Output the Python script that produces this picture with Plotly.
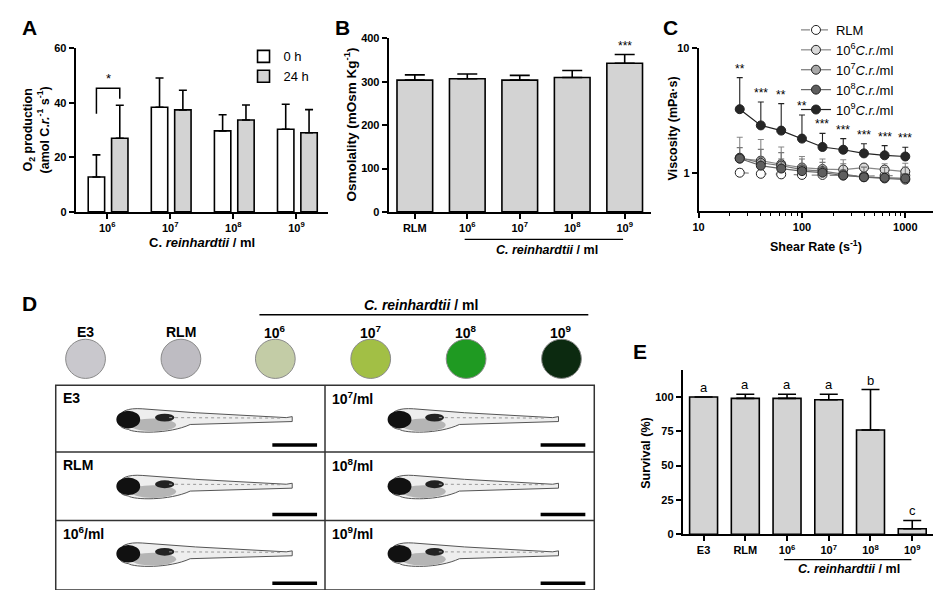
import numpy as np
import plotly.graph_objects as go

W, H = 941, 590
FONT = "Liberation Sans, Arial, sans-serif"

# ---------------- data ----------------
# Panel A: O2 production
a_cats = ["10<sup>6</sup>", "10<sup>7</sup>", "10<sup>8</sup>", "10<sup>9</sup>"]
a_0h = [12.8, 38.4, 29.7, 30.3]
a_0h_err = [8.1, 10.7, 5.9, 9.2]
a_24h = [27.0, 37.4, 33.7, 29.0]
a_24h_err = [12.1, 7.2, 5.5, 8.5]

# Panel B: osmolality
b_cats = ["RLM", "10<sup>6</sup>", "10<sup>7</sup>", "10<sup>8</sup>", "10<sup>9</sup>"]
b_vals = [304, 307, 304, 310, 343]
b_err = [12, 11, 11, 16, 20]

# Panel C: viscosity vs shear rate
c_shear = [25, 40, 63, 100, 158, 251, 398, 631, 1000]
c_names = ["RLM", "10<sup>6</sup><i>C.r.</i>/ml", "10<sup>7</sup><i>C.r.</i>/ml",
           "10<sup>8</sup><i>C.r.</i>/ml", "10<sup>9</sup><i>C.r.</i>/ml"]
c_rlm = [1.00, 0.98, 0.97, 0.96, 0.96, 0.95, 0.94, 0.95, 0.95]
c_rlm_err = [0.07, 0.05, 0.05, 0.04, 0.04, 0.04, 0.03, 0.03, 0.03]
c_e6 = [1.30, 1.25, 1.17, 1.10, 1.07, 1.06, 1.10, 1.06, 1.02]
c_e6_err = [0.63, 0.60, 0.44, 0.25, 0.22, 0.21, 0.06, 0.12, 0.17]
c_e7 = [1.32, 1.20, 1.14, 1.06, 1.03, 0.97, 0.92, 0.90, 0.88]
c_e7_err = [0.27, 0.34, 0.31, 0.23, 0.18, 0.21, 0.19, 0.20, 0.23]
c_e8 = [1.30, 1.14, 1.08, 1.03, 1.00, 0.95, 0.92, 0.91, 0.90]
c_e8_err = [0.03, 0.19, 0.21, 0.12, 0.10, 0.10, 0.08, 0.09, 0.08]
c_e9 = [3.24, 2.40, 2.18, 1.88, 1.61, 1.53, 1.43, 1.38, 1.35]
c_e9_err = [2.57, 1.30, 1.41, 1.03, 0.46, 0.35, 0.28, 0.27, 0.25]
c_stars = ["**", "***", "**", "**", "***", "***", "***", "***", "***"]

# Panel D: culture photos (labels only)
d_circle_labels = ["E3", "RLM", "10<sup>6</sup>", "10<sup>7</sup>", "10<sup>8</sup>", "10<sup>9</sup>"]
d_circle_colors = ["#c9c8cd", "#bebcc2", "#c3cca6", "#a2bf45", "#1f9a22", "#0c2a10"]
d_cell_labels = ["E3", "RLM", "10<sup>6</sup>/ml", "10<sup>7</sup>/ml", "10<sup>8</sup>/ml", "10<sup>9</sup>/ml"]

# Panel E: survival
e_cats = ["E3", "RLM", "10<sup>6</sup>", "10<sup>7</sup>", "10<sup>8</sup>", "10<sup>9</sup>"]
e_vals = [100, 99, 99, 98, 76, 4]
e_err = [0, 3, 3, 4, 29.5, 6]
e_letters = ["a", "a", "a", "a", "b", "c"]

# ---------------- helpers ----------------
def xd(a, b):
    return [a / W, b / W]

def yd(top, bottom):
    return [1 - bottom / H, 1 - top / H]

def px(x):
    return x / W

def py(y):
    return 1 - y / H

def P(x, y):
    return f"{px(x):.5f},{py(y):.5f}"

GRAY = "#d3d3d3"
LW = 1.6

axis_common = dict(showline=True, linecolor="black", linewidth=1.8, ticks="outside",
                   ticklen=5, tickwidth=1.5, tickcolor="black", showgrid=False,
                   zeroline=False, tickfont=dict(family=FONT, size=11, color="black", weight="bold"))

fig = go.Figure()

# ---------------- Panel A ----------------
ax = list(range(len(a_cats)))
fig.add_trace(go.Bar(x=ax, y=a_0h, width=0.26, offset=-0.30, name="0 h",
                     marker=dict(color="white", line=dict(color="black", width=LW)),
                     error_y=dict(type="data", array=a_0h_err, arrayminus=[0] * 4, symmetric=False,
                                  color="black", thickness=1.6, width=4),
                     xaxis="x", yaxis="y", legend="legend"))
fig.add_trace(go.Bar(x=ax, y=a_24h, width=0.26, offset=0.07, name="24 h",
                     marker=dict(color=GRAY, line=dict(color="black", width=LW)),
                     error_y=dict(type="data", array=a_24h_err, arrayminus=[0] * 4, symmetric=False,
                                  color="black", thickness=1.6, width=4),
                     xaxis="x", yaxis="y", legend="legend"))

# ---------------- Panel B ----------------
bx = list(range(len(b_cats)))
fig.add_trace(go.Bar(x=bx, y=b_vals, width=0.68, showlegend=False,
                     marker=dict(color=GRAY, line=dict(color="black", width=LW)),
                     error_y=dict(type="data", array=b_err, arrayminus=[0] * 5, symmetric=False,
                                  color="black", thickness=1.6, width=10),
                     xaxis="x2", yaxis="y2"))

# ---------------- Panel C ----------------
c_series = [(c_rlm, c_rlm_err, "white", "#888888", "dash"),
            (c_e6, c_e6_err, "#d9d9d9", "#888888", "solid"),
            (c_e7, c_e7_err, "#a8a8a8", "#777777", "solid"),
            (c_e8, c_e8_err, "#5e5e5e", "#666666", "solid"),
            (c_e9, c_e9_err, "#262626", "#222222", "solid")]
for name, (vals, errs, fill, lcol, dash) in zip(c_names, c_series):
    fig.add_trace(go.Scatter(x=c_shear, y=vals, name=name, mode="lines+markers",
                             line=dict(color=lcol, width=1.2, dash=dash),
                             marker=dict(symbol="circle", size=9, color=fill,
                                         line=dict(color="#222222", width=1)),
                             error_y=dict(type="data", array=errs, arrayminus=[0] * len(errs),
                                          symmetric=False, color=lcol, thickness=1.1, width=3),
                             xaxis="x3", yaxis="y3", legend="legend2"))

# ---------------- Panel E ----------------
ex = list(range(len(e_cats)))
fig.add_trace(go.Bar(x=ex, y=e_vals, width=0.67, showlegend=False,
                     marker=dict(color=GRAY, line=dict(color="black", width=LW)),
                     error_y=dict(type="data", array=e_err, arrayminus=[0] * 6, symmetric=False,
                                  color="black", thickness=1.6, width=9),
                     xaxis="x4", yaxis="y4"))

# ---------------- layout axes ----------------
fig.update_layout(
    width=W, height=H, margin=dict(l=0, r=0, t=0, b=0),
    paper_bgcolor="white", plot_bgcolor="white", barmode="overlay",
    font=dict(family=FONT, color="black"),
    xaxis=dict(domain=xd(62, 316), anchor="y", range=[-0.5, 3.5], tickmode="array",
               tickvals=ax, ticktext=a_cats, **axis_common),
    yaxis=dict(domain=yd(35, 202), anchor="x", range=[0, 60], tickvals=[0, 20, 40, 60], **axis_common),
    xaxis2=dict(domain=xd(377, 641), anchor="y2", range=[-0.5, 4.5], tickmode="array",
                tickvals=bx, ticktext=b_cats, **axis_common),
    yaxis2=dict(domain=yd(25, 202), anchor="x2", range=[0, 400], tickvals=[0, 100, 200, 300, 400],
                **axis_common),
    xaxis3=dict(domain=xd(689, 938), anchor="y3", type="log", range=[1, 3.394], tickmode="array",
                tickvals=[10, 100, 1000], ticktext=["10", "100", "1000"],
                minor=dict(ticks="outside", ticklen=3, tickwidth=1, tickcolor="black",
                           tickvals=[20, 30, 40, 50, 60, 70, 80, 90, 200, 300, 400, 500, 600, 700,
                                     800, 900, 2000], showgrid=False),
                **axis_common),
    yaxis3=dict(domain=yd(35, 201), anchor="x3", type="log", range=[-0.307, 1], tickmode="array",
                tickvals=[1, 10], ticktext=["1", "10"], **axis_common),
    xaxis4=dict(domain=xd(673, 925), anchor="y4", range=[-0.5, 5.5], tickmode="array",
                tickvals=ex, ticktext=e_cats, **axis_common),
    yaxis4=dict(domain=yd(363, 531), anchor="x4", range=[0, 120], tickvals=[0, 25, 50, 75, 100],
                **axis_common),
    legend=dict(x=px(231), y=py(28), xanchor="left", yanchor="top", bgcolor="rgba(0,0,0,0)",
                font=dict(family=FONT, size=13), tracegroupgap=0, itemwidth=30),
    legend2=dict(x=px(787), y=py(1), xanchor="left", yanchor="top", bgcolor="rgba(0,0,0,0)",
                 font=dict(family=FONT, size=13), tracegroupgap=0, itemwidth=30),
)

ann = []
shapes = []

def text(x, y, t, size=12, bold=True, xanchor="center", yanchor="middle", angle=0, ref=("paper", "paper")):
    ann.append(dict(x=x, y=y, xref=ref[0], yref=ref[1], text=(f"<b>{t}</b>" if bold else t),
                    showarrow=False, xanchor=xanchor, yanchor=yanchor, textangle=angle,
                    font=dict(family=FONT, size=size, color="black")))

# panel letters
for L, x, y in [("A", 6, 14), ("B", 321, 14), ("C", 651, 14), ("D", 6, 295), ("E", 621, 345)]:
    text(px(x), py(y), L, size=21, xanchor="left")

# axis titles
text(px(22), py(118), "O<sub>2</sub> production<br>(amol C.<i>r.</i><sup>-1</sup> s<sup>-1</sup>)",
     size=12.5, angle=-90)
text(px(189), py(233), "C. <i>reinhardtii</i> / ml", size=13)
text(px(338), py(113), "Osmolality (mOsm Kg<sup>-1</sup>)", size=13.5, angle=-90)
text(px(536), py(241), "<i>C. reinhardtii</i> / ml", size=12.5)
text(px(663), py(117), "Viscosity (mPa·s)", size=12.5, angle=-90)
text(px(807), py(237), "Shear Rate (s<sup>-1</sup>)", size=12.5)
text(px(636), py(448), "Survival (%)", size=12.5, angle=-90)
text(px(840), py(567), "<i>C. reinhardtii</i> / ml", size=12.5)

# A significance bracket
shapes.append(dict(type="path", xref="x", yref="y",
                   path=f"M -0.17,36 L -0.17,45.3 L 0.20,45.3 L 0.20,41.5",
                   line=dict(color="black", width=1.5)))
text(0.015, 45.6, "*", size=13, bold=False, yanchor="bottom", ref=("x", "y"))

# B stars + underline
text(bx[-1], b_vals[-1] + b_err[-1], "***", size=12, bold=False, yanchor="bottom", ref=("x2", "y2"))
shapes.append(dict(type="line", xref="x2", yref="paper", x0=0.95, x1=3.97, y0=py(230), y1=py(230),
                   line=dict(color="black", width=1.3)))

# C stars
for s, v, e, st in zip(c_shear, c_e9, c_e9_err, c_stars):
    text(np.log10(s), np.log10(v + e), st, size=12, bold=False, yanchor="bottom", ref=("x3", "y3"))

# E letters + underline
for i, (v, e, l) in enumerate(zip(e_vals, e_err, e_letters)):
    text(i, v + e, l, size=13, bold=False, yanchor="bottom", ref=("x4", "y4"))
shapes.append(dict(type="line", xref="x4", yref="paper", x0=1.93, x1=4.98, y0=py(557), y1=py(557),
                   line=dict(color="black", width=1.3)))

# ---------------- Panel D (photo panel, drawn schematically) ----------------
circ_x = [72, 168, 263, 359, 455, 551]
circ_y, circ_r = 352, 20
for cx, col, lab in zip(circ_x, d_circle_colors, d_circle_labels):
    shapes.append(dict(type="circle", xref="paper", yref="paper",
                       x0=px(cx - circ_r), x1=px(cx + circ_r), y0=py(circ_y + circ_r), y1=py(circ_y - circ_r),
                       fillcolor=col, line=dict(color="#8a8a8a", width=1)))
    text(px(cx), py(325), lab, size=14)
text(px(410), py(297), "<i>C. reinhardtii</i> / ml", size=14)
shapes.append(dict(type="line", xref="paper", yref="paper", x0=px(247), x1=px(578), y0=py(307), y1=py(307),
                   line=dict(color="black", width=1.3)))

# grid
gl, gr, gm, gt, gb = 42, 584, 313, 379, 588
rows = [379, 447, 517, 588]
shapes.append(dict(type="rect", xref="paper", yref="paper", x0=px(gl), x1=px(gr), y0=py(gb), y1=py(gt),
                   line=dict(color="#333333", width=1.5)))
shapes.append(dict(type="line", xref="paper", yref="paper", x0=px(gm), x1=px(gm), y0=py(gb), y1=py(gt),
                   line=dict(color="#333333", width=1.5)))
for r in rows[1:3]:
    shapes.append(dict(type="line", xref="paper", yref="paper", x0=px(gl), x1=px(gr), y0=py(r), y1=py(r),
                       line=dict(color="#333333", width=1.5)))

def fish(hx, tail, cy):
    L = tail - hx
    body = ("M" + P(hx + 2, cy) +
            " C" + P(hx + 2, cy - 10) + " " + P(hx + 12, cy - 13) + " " + P(hx + 26, cy - 12) +
            " L" + P(hx + 0.45 * L, cy - 8) +
            " L" + P(tail - 6, cy - 3) +
            " L" + P(tail, cy - 4) +
            " L" + P(tail, cy + 1) +
            " L" + P(hx + 0.42 * L, cy + 4) +
            " C" + P(hx + 0.30 * L, cy + 14) + " " + P(hx + 0.10 * L, cy + 13) + " " + P(hx + 12, cy + 9) +
            " C" + P(hx + 5, cy + 8) + " " + P(hx + 2, cy + 5) + " " + P(hx + 2, cy) + " Z")
    shapes.append(dict(type="path", xref="paper", yref="paper", path=body,
                       fillcolor="#eeeeee", line=dict(color="#555555", width=1)))
    shapes.append(dict(type="circle", xref="paper", yref="paper",
                       x0=px(hx + 14), x1=px(hx + 0.34 * L), y0=py(cy + 11), y1=py(cy - 2),
                       fillcolor="#b5b5b5", line=dict(width=0)))
    shapes.append(dict(type="circle", xref="paper", yref="paper",
                       x0=px(hx + 0.22 * L), x1=px(hx + 0.33 * L), y0=py(cy + 1), y1=py(cy - 7),
                       fillcolor="#222222", line=dict(width=0)))
    shapes.append(dict(type="circle", xref="paper", yref="paper",
                       x0=px(hx), x1=px(hx + 24), y0=py(cy + 8), y1=py(cy - 10),
                       fillcolor="#111111", line=dict(width=0)))
    shapes.append(dict(type="line", xref="paper", yref="paper", x0=px(hx + 0.3 * L), x1=px(tail - 12),
                       y0=py(cy - 3), y1=py(cy - 2.5), line=dict(color="#999999", width=1, dash="dot")))

fish_rows = [415, 483, 552]
for i, cy in enumerate(fish_rows):
    fish(103, 280, cy)
    fish(376, 548, cy)

label_y = [392, 460, 530]
bar_y = [440, 511, 581]
for i in range(3):
    text(px(47), py(label_y[i]), d_cell_labels[i], size=14, xanchor="left")
    text(px(318), py(label_y[i]), d_cell_labels[i + 3], size=14, xanchor="left")
    for x0, x1 in [(260, 305), (530, 575)]:
        shapes.append(dict(type="line", xref="paper", yref="paper", x0=px(x0), x1=px(x1),
                           y0=py(bar_y[i]), y1=py(bar_y[i]), line=dict(color="black", width=3.5)))

fig.update_layout(annotations=ann, shapes=shapes)
fig.write_html("out.html")
